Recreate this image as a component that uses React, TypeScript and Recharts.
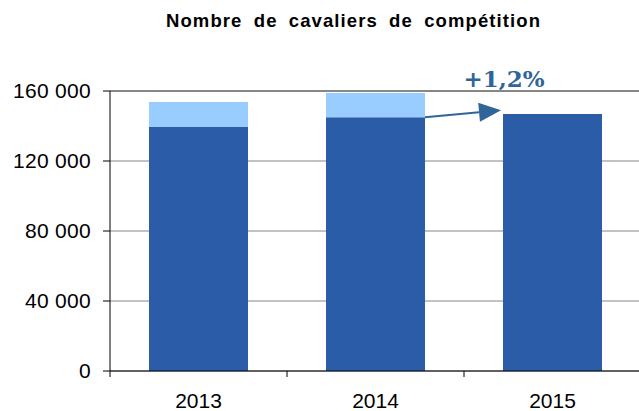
import React from "react";
import { BarChart, Bar, XAxis, YAxis, CartesianGrid, ReferenceLine } from "recharts";

// Riders per year: solid part plus the light-blue extra on top.
const YEARS = ["2013", "2014", "2015"];
const RIDERS_BASE = [139500, 145000, 146800];
const RIDERS_EXTRA = [14200, 13900, 0];
const Y_TICKS = [0, 40000, 80000, 120000, 160000];
const GROWTH_LABEL = "+1,2%";
const ARROW_TIP = 149000;

const CHART_W = 641;
const PLOT_LEFT = 110;
const BAND = (CHART_W - PLOT_LEFT) / YEARS.length;
const BAR_SIZE = 99;

const DARK = "#2B5CA8";
const LIGHT = "#99CCFF";
const ARROW = "#2F6598";
const FONT = "'Liberation Sans', Arial, sans-serif";

const data = YEARS.map((year, i) => ({
  year,
  base: RIDERS_BASE[i],
  extra: RIDERS_EXTRA[i],
}));

function fmt(v: number) {
  return v === 0 ? "0" : `${Math.round(v / 1000)} 000`;
}

function YearTick({ x, y, payload }: any) {
  // tick marks sit on the boundaries between categories, not under the bars
  const bx = x - BAND / 2;
  return (
    <g>
      <line x1={bx} y1={y - 6} x2={bx} y2={y} stroke="#000" strokeWidth={1} />
      <text x={x} y={y + 31} textAnchor="middle" fontSize={21} fill="#000" fontFamily={FONT}>
        {payload.value}
      </text>
    </g>
  );
}

function GrowthArrow({ x1, y1, x2, y2 }: any) {
  const sx = x1 + BAR_SIZE / 2;
  const ex = x2 - BAR_SIZE / 2 - 2;
  const dx = ex - sx;
  const dy = y2 - y1;
  const len = Math.sqrt(dx * dx + dy * dy);
  const ux = dx / len;
  const uy = dy / len;
  const head = 22;
  const half = 9.5;
  const bx = ex - ux * head;
  const by = y2 - uy * head;
  return (
    <g>
      <line x1={sx} y1={y1} x2={bx} y2={by} stroke={ARROW} strokeWidth={2} />
      <polygon
        points={`${ex},${y2} ${bx - uy * half},${by + ux * half} ${bx + uy * half},${by - ux * half}`}
        fill={ARROW}
      />
      <text
        x={ex + 3}
        y={y2 - 23}
        textAnchor="middle"
        fontSize={23}
        fontWeight="bold"
        fill={ARROW}
        fontFamily="'DejaVu Serif', serif"
      >
        {GROWTH_LABEL}
      </text>
    </g>
  );
}

export default function App() {
  return (
    <div
      style={{
        position: "absolute",
        left: 0,
        top: 0,
        width: 639,
        height: 411,
        overflow: "hidden",
        background: "#fff",
        fontFamily: FONT,
      }}
    >
      <div
        style={{
          position: "absolute",
          top: 11,
          left: 166,
          whiteSpace: "nowrap",
          fontSize: 18.5,
          letterSpacing: 1.1,
          wordSpacing: 5,
          fontWeight: "bold",
          lineHeight: "20px",
          color: "#000",
        }}
      >
        Nombre de cavaliers de compétition
      </div>
      <BarChart width={CHART_W} height={411} data={data} margin={{ top: 91, right: 0, bottom: 0, left: 0 }}>
        <CartesianGrid vertical={false} stroke="#858585" />
        <XAxis
          dataKey="year"
          interval={0}
          height={40}
          tickLine={false}
          tickSize={6}
          tickMargin={0}
          axisLine={{ stroke: "#000" }}
          tick={<YearTick />}
        />
        <YAxis
          width={PLOT_LEFT}
          domain={[0, 160000]}
          ticks={Y_TICKS}
          tickFormatter={fmt}
          tickSize={7}
          tickMargin={12}
          axisLine={{ stroke: "#000" }}
          tickLine={{ stroke: "#000" }}
          tick={{ fill: "#000", fontSize: 21, fontFamily: FONT, letterSpacing: 0.3 }}
        />
        <ReferenceLine y={160000} stroke="#4d4d4d" />
        <Bar dataKey="base" stackId="a" fill={DARK} barSize={BAR_SIZE} isAnimationActive={false} />
        <Bar dataKey="extra" stackId="a" fill={LIGHT} barSize={BAR_SIZE} isAnimationActive={false} />
        <ReferenceLine
          segment={[
            { x: YEARS[1], y: RIDERS_BASE[1] },
            { x: YEARS[2], y: ARROW_TIP },
          ]}
          shape={<GrowthArrow />}
        />
      </BarChart>
    </div>
  );
}
